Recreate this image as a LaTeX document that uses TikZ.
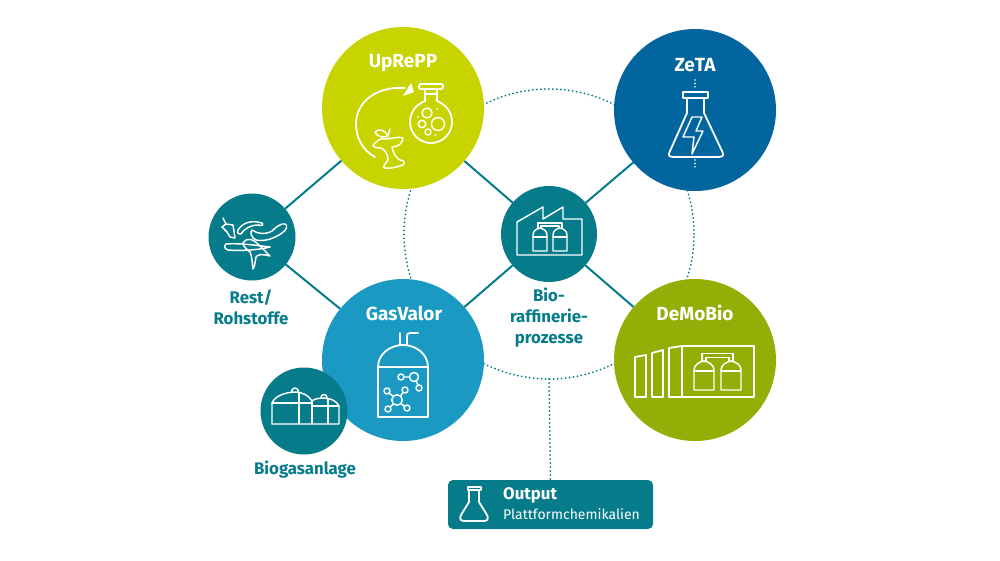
\documentclass[tikz,border=0pt]{standalone}
\usepackage{fontspec}
\setmainfont{Fira Sans}
\usetikzlibrary{backgrounds}
\definecolor{lime}{HTML}{C8D400}
\definecolor{zblue}{HTML}{03659E}
\definecolor{gblue}{HTML}{1A9AC3}
\definecolor{olive}{HTML}{95AE07}
\definecolor{teal}{HTML}{067C8B}
\tikzset{
  x=1pt,y=-1pt,
  disc/.style={circle,inner sep=0pt,outer sep=0pt,minimum size=#1},
  icon/.style={draw=white,line width=1.8pt,line join=round,line cap=round,fill=none},
  thin icon/.style={icon,line width=1.45pt},
  link/.style={draw=teal,line width=2pt},
  dots/.style={draw=teal,line width=2pt,line cap=round,dash pattern=on 0pt off 4pt},
  wdots/.style={draw=white,line width=1.8pt,line cap=round,dash pattern=on 0pt off 3.4pt},
  headtext/.style={text=white,font=\fontsize{19}{22}\selectfont\bfseries,inner sep=0pt},
  captext/.style={text=teal,font=\fontsize{16.8}{21}\selectfont\bfseries,inner sep=0pt,align=center},
}
\begin{document}
\begin{tikzpicture}
\useasboundingbox (0,0) rectangle (1000,560);
% discs
\node[disc=162pt,fill=lime] (uprepp) at (403,108) {};
\node[disc=162pt,fill=zblue] (zeta) at (695,110) {};
\node[disc=162pt,fill=gblue] (gasvalor) at (403,360) {};
\node[disc=162pt,fill=olive] (demobio) at (695,360) {};
\node[disc=87pt,fill=teal] (rest) at (252,237) {};
\node[disc=96pt,fill=teal] (bio) at (549,234) {};
\node[disc=87pt,fill=teal] (biogas) at (304,411) {};
\node[draw=none,fill=teal,rounded corners=5pt,minimum width=205pt,minimum height=49pt,inner sep=0pt,outer sep=0pt] (output) at (550.5,504.5) {};
\begin{pgfonlayer}{background}
\fill[white] (0,0) rectangle (1000,560);
\node[circle,inner sep=0pt,outer sep=0pt,minimum size=290pt,dots] (ring) at (549,234) {};
\draw[dots] (ring.south) -- (output.north);
\draw[link] (rest) -- (uprepp);
\draw[link] (rest) -- (gasvalor);
\draw[link] (bio) -- (uprepp);
\draw[link] (bio) -- (zeta);
\draw[link] (bio) -- (gasvalor);
\draw[link] (bio) -- (demobio);
\end{pgfonlayer}
% titles
\node[headtext] (t1) at (403,63.5) {UpRePP};
\node[headtext] (t2) at (695,65) {ZeTA};
\node[headtext] (t3) at (404,313) {GasValor};
\node[headtext] (t4) at (695,313) {DeMoBio};
\node[captext] (c1) at (251,307.5) {Rest/\\Rohstoffe};
\node[captext] (c2) at (549,318) {Bio-\\raffinerie-\\prozesse};
\node[captext] (c3) at (305,470) {Biogasanlage};
\node[text=white,font=\fontsize{16.8}{18}\selectfont\bfseries,inner sep=0pt,anchor=base west] (o1) at (503,499) {Output};
\node[text=white,font=\fontsize{14}{18}\selectfont,inner sep=0pt,anchor=base west] (o2) at (503,519) {Plattformchemikalien};
% UpRePP icon
\draw[icon] (375,157) .. controls (362,150) and (356,137) .. (356,124) .. controls (356,103) and (375,86) .. (405,88);
\fill[white] (403,96) -- (411,83) -- (414,92) -- cycle;
\draw[icon] (425,89) -- (425,101) .. controls (415,105) and (410,113) .. (410,122) arc[start angle=180,end angle=0,radius=21] .. controls (452,113) and (447,105) .. (437,101) -- (437,89);
\draw[icon,rounded corners=1.5pt] (419,84) rectangle (443,89);
\draw[thin icon] (425,94) -- (437,94);
\draw[thin icon] (427,113) circle[radius=5];
\draw[thin icon] (438,124) circle[radius=6.5];
\draw[thin icon] (422,124) circle[radius=3.7];
\draw[thin icon] (428,132) circle[radius=3];
\fill[white] (437,109) circle[radius=1] (418,117) circle[radius=1] (435,135) circle[radius=1];
\draw[thin icon] (373,145) .. controls (378,141) and (378,138) .. (385,139) .. controls (392,139) and (398,136) .. (403,138) .. controls (403,143) and (398,147) .. (392,147) .. controls (393,153) and (396,158) .. (400,160) .. controls (405,160) and (405,163) .. (403,165) .. controls (397,167) and (390,169) .. (385,168) .. controls (381,167) and (386,164) .. (388,160) .. controls (388,154) and (385,150) .. (381,148) .. controls (377,148) and (373,147) .. (373,145) -- cycle;
\draw[thin icon] (375,132) .. controls (379,128) and (385,130) .. (388,136) .. controls (383,138) and (377,137) .. (375,132) -- cycle;
\draw[thin icon] (388,136) -- (390,129);
% ZeTA icon
\draw[wdots] (695,80) -- (695,90);
\draw[wdots] (695,160) -- (695,170);
\draw[icon] (687,98) -- (687,113) -- (670,151) .. controls (667,156) and (670,157) .. (674,157) -- (718,157) .. controls (722,157) and (725,156) .. (722,151) -- (704,113) -- (704,98);
\draw[icon] (683,92) rectangle (708,98);
\draw[thin icon] (692,117) -- (702,117) -- (696,131) -- (703,131) -- (692,154) -- (694,137) -- (683,137) -- cycle;
% Rest icon
\draw[thin icon] (223,218) -- (226,224) -- (233,225) -- (235,238) -- (230,237) -- (227,232) -- (222,227) -- (226,224);
\draw[thin icon] (238,230) .. controls (243,222) and (252,220) .. (262,223) .. controls (264,225) and (262,226) .. (258,225) .. controls (250,225) and (243,230) .. (241,234) .. controls (238,234) and (237,233) .. (238,230) -- cycle;
\draw[thin icon] (252,230) .. controls (258,234) and (265,235) .. (272,231) .. controls (277,226) and (282,223) .. (285,224) .. controls (288,225) and (287,230) .. (282,233) .. controls (275,238) and (265,242) .. (256,240) .. controls (251,238) and (250,232) .. (252,230) -- cycle;
\draw[thin icon] (226,244) .. controls (238,243) and (255,245) .. (270,247) .. controls (260,250) and (240,251) .. (228,250) .. controls (224,249) and (224,245) .. (226,244) -- cycle;
\draw[thin icon] (243,243) .. controls (248,236) and (254,240) .. (260,246) .. controls (265,250) and (267,254) .. (270,256) .. controls (263,254) and (258,254) .. (256,257) .. controls (255,262) and (255,266) .. (253,269) .. controls (252,262) and (252,256) .. (250,252) .. controls (248,250) and (243,247) .. (243,243) -- cycle;
% Bio icon
\draw[thin icon] (517,222) -- (543,207) -- (543,219) -- (563,207) -- (563,219) -- (582,219) -- (582,255) -- (517,255) -- cycle;
\draw[thin icon] (533,251) -- (533,235) .. controls (533,231) and (536,229) .. (540,228) .. controls (544,229) and (547,231) .. (547,235) -- (547,251) -- cycle;
\draw[thin icon] (553,251) -- (553,235) .. controls (553,231) and (556,229) .. (560,228) .. controls (564,229) and (567,231) .. (567,235) -- (567,251) -- cycle;
\draw[thin icon] (533,237) -- (547,237) (553,237) -- (567,237);
\draw[thin icon] (538,228) -- (538,223) -- (562,223) -- (562,228) (541,228) -- (541,226) -- (559,226) -- (559,228);
% GasValor icon
\draw[icon] (378,367) rectangle (428,417);
\draw[icon] (378,367) .. controls (378,354) and (390,345) .. (403,345) .. controls (416,345) and (428,354) .. (428,367);
\draw[icon] (400,345) -- (400,333) (407,345) -- (407,336) .. controls (407,334) and (408,333) .. (410,333) -- (418,333);
\draw[thin icon] (397,400) circle[radius=5.3];
\draw[thin icon] (387,391) circle[radius=3] (405,390) circle[radius=3] (388,409) circle[radius=3] (407,408) circle[radius=3];
\draw[thin icon] (393.5,396.5) -- (389,393) (400.5,396) -- (403,392.5) (393.5,404) -- (390,407) (401,403.5) -- (404.5,406.5);
\draw[thin icon] (414,377) circle[radius=4.5] (401,377) circle[radius=3] (419,388) circle[radius=3];
\draw[thin icon] (404,377) -- (409.5,377) (416,381) -- (418,385);
% Biogas icon
\draw[thin icon] (272,424) -- (272,403) .. controls (275,395) and (288,392) .. (295,392) .. controls (303,392) and (309,396) .. (312,401);
\draw[thin icon] (272,403) -- (312,403);
\draw[thin icon] (299,392.5) -- (299,424);
\draw[thin icon] (312,401) -- (312,424);
\draw[thin icon] (272,424) -- (339,424) -- (339,406) .. controls (337,401) and (330,398) .. (324,398) .. controls (319,398) and (314,399) .. (312,401);
\draw[thin icon] (312,406) -- (339,406);
\draw[thin icon] (328,398.5) -- (328,424);
\draw[thin icon] (291.5,391.5) arc[start angle=180,end angle=360,radius=3.5];
\draw[thin icon] (321,397.5) arc[start angle=180,end angle=360,radius=3];
% DeMoBio icon
\draw[icon] (635,357) -- (646,355) -- (646,397) -- (635,397) -- cycle;
\draw[icon] (652,353) -- (663,350) -- (663,397) -- (652,397) -- cycle;
\draw[icon] (669,348) -- (682,346) -- (682,397) -- (669,397) -- cycle;
\draw[icon] (682,346) -- (754,346) -- (754,397) -- (682,397);
\draw[thin icon] (694,390) -- (694,370) .. controls (694,365) and (699,362) .. (704,361) .. controls (709,362) and (714,365) .. (714,370) -- (714,390) -- cycle;
\draw[thin icon] (721,390) -- (721,370) .. controls (721,365) and (726,362) .. (731,361) .. controls (736,362) and (741,365) .. (741,370) -- (741,390) -- cycle;
\draw[thin icon] (694,371) -- (714,371) (721,371) -- (741,371);
\draw[thin icon] (702,361) -- (702,353.5) -- (733,353.5) -- (733,361) (706,361) -- (706,357.5) -- (729,357.5) -- (729,361);
% Output icon
\draw[icon] (469,490) -- (469,502) -- (461,515) .. controls (459,519) and (461,521) .. (464,521) -- (484,521) .. controls (487,521) and (489,519) .. (487,515) -- (479,502) -- (479,490);
\draw[thin icon] (468,487) rectangle (481,490);
\end{tikzpicture}
\end{document}
